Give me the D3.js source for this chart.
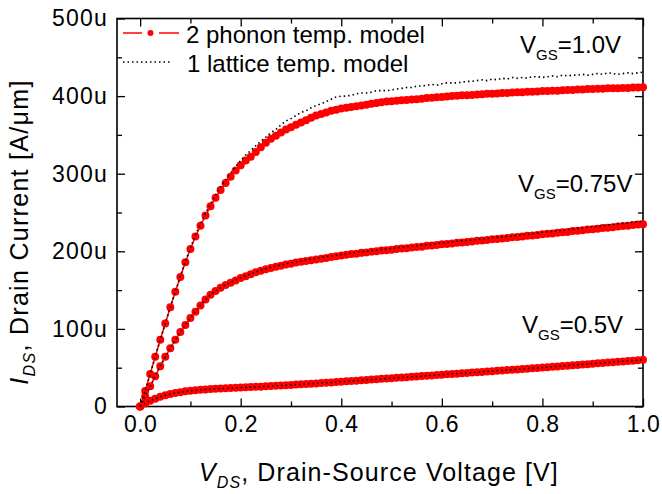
<!DOCTYPE html>
<html>
  <head>
    <meta charset="utf-8">
    <title>Drain current vs drain-source voltage</title>
    <script src="https://cdn.jsdelivr.net/npm/d3@7"></script>
    <style>
      body { margin: 0; background: #fff; }
      svg text { font-family: "Liberation Sans", Arial, sans-serif; fill: #000; }
    </style>
  </head>
  <body>
    <div id="chart"></div>
    <script>
      // drain-source sweep [V]
      const vds = [
        0.00, 0.01, 0.02, 0.03, 0.04, 0.05, 0.06, 0.07, 0.08, 0.09,
        0.10, 0.11, 0.12, 0.13, 0.14, 0.15, 0.16, 0.17, 0.18, 0.19,
        0.20, 0.21, 0.22, 0.23, 0.24, 0.25, 0.26, 0.27, 0.28, 0.29,
        0.30, 0.31, 0.32, 0.33, 0.34, 0.35, 0.36, 0.37, 0.38, 0.39,
        0.40, 0.41, 0.42, 0.43, 0.44, 0.45, 0.46, 0.47, 0.48, 0.49,
        0.50, 0.51, 0.52, 0.53, 0.54, 0.55, 0.56, 0.57, 0.58, 0.59,
        0.60, 0.61, 0.62, 0.63, 0.64, 0.65, 0.66, 0.67, 0.68, 0.69,
        0.70, 0.71, 0.72, 0.73, 0.74, 0.75, 0.76, 0.77, 0.78, 0.79,
        0.80, 0.81, 0.82, 0.83, 0.84, 0.85, 0.86, 0.87, 0.88, 0.89,
        0.90, 0.91, 0.92, 0.93, 0.94, 0.95, 0.96, 0.97, 0.98, 0.99,
        1.00
      ];

      // drain current [uA/um], 2 phonon temperature model
      const phonon10 = [
        0, 20, 42, 64, 86, 107, 128, 148, 167, 186,
        203, 219, 233, 246, 258, 269, 279, 288, 296, 304,
        311, 317, 322, 328, 334, 340, 345, 349, 353, 357,
        360, 363, 366, 369, 372, 375, 377, 379, 381, 382.5,
        384, 385, 386, 387, 388, 389, 390, 391, 392, 393,
        393.5, 394, 394.5, 395, 395.5, 396, 396.5, 397.5, 398, 398.5,
        399, 399.5, 400, 400.5, 401, 401, 401.5, 402, 402.5, 403,
        403, 403.5, 404, 404, 404.5, 405, 405, 405.5, 405.5, 406,
        406.5, 406.5, 407, 407, 407.5, 408, 408, 408.5, 408.5, 409,
        409, 409.5, 409.5, 410, 410, 410, 410.5, 410.5, 411, 411,
        411.5
      ];
      const phonon075 = [
        0, 13, 26, 39, 52, 64, 75, 86, 96, 105,
        114, 122, 130, 138, 144, 149, 153, 156.5, 159.5, 162.5,
        165.5, 168, 170.5, 173, 175, 177, 178.5, 180, 181.5, 183,
        184, 185.5, 186.5, 187.5, 188.5, 189.5, 190.5, 191.5, 192.5, 193.5,
        194.5, 195.5, 196.5, 197, 198, 198.5, 199.5, 200, 201, 201.5,
        202, 203, 203.5, 204, 205, 205.5, 206, 207, 207.5, 208,
        209, 209.5, 210, 211, 211.5, 212, 212.5, 213.5, 214, 214.5,
        215.5, 216, 216.5, 217, 218, 218.5, 219, 220, 220.5, 221,
        222, 222.5, 223, 224, 224.5, 225, 226, 226.5, 227, 228,
        228.5, 229, 230, 230.5, 231, 232, 232.5, 233, 234, 234.5,
        235
      ];
      const phonon05 = [
        0, 4, 7.5, 10, 12.5, 14.5, 16, 17.5, 18.5, 19.5,
        20.3, 21, 21.5, 22, 22.4, 22.8, 23.2, 23.5, 23.8, 24.1,
        24.4, 24.7, 25, 25.3, 25.6, 26, 26.3, 26.7, 27, 27.4,
        27.8, 28.2, 28.6, 29, 29.4, 29.8, 30.2, 30.6, 31, 31.5,
        32, 32.4, 32.9, 33.3, 33.8, 34.2, 34.7, 35.1, 35.6, 36,
        36.5, 36.9, 37.4, 37.8, 38.3, 38.7, 39.2, 39.6, 40.1, 40.5,
        41, 41.4, 41.9, 42.3, 42.8, 43.2, 43.7, 44.1, 44.6, 45,
        45.5, 46, 46.4, 46.9, 47.3, 47.8, 48.3, 48.7, 49.2, 49.6,
        50.1, 50.6, 51.1, 51.6, 52.1, 52.6, 53.1, 53.6, 54.1, 54.6,
        55.1, 55.6, 56.1, 56.6, 57.1, 57.6, 58.1, 58.6, 59.1, 59.6,
        60.1
      ];

      // drain current [uA/um], 1 lattice temperature model
      const lattice10 = [
        0, 20, 42, 64, 86, 107, 128, 148, 168, 187,
        204, 221, 235, 249, 261, 272, 283, 292, 301, 309,
        317, 324, 330, 336, 342, 347, 353, 357, 363, 368,
        371, 375, 379, 381, 385, 388, 390, 393, 396, 399,
        400, 400, 401, 403, 404, 404, 405, 407, 407, 407,
        408, 409, 410, 411, 411, 413, 413, 414, 415, 414,
        416, 417, 417, 417, 418, 419, 419, 420, 421, 420,
        422, 421, 423, 422, 424, 423, 424, 423, 425, 425,
        424, 425, 426, 425, 427, 426, 427, 427, 428, 427,
        428, 429, 428, 430, 429, 428, 429, 430, 429, 430,
        431
      ];
      const lattice075 = [
        0, 13, 26, 39, 52, 64, 75, 86, 96, 105,
        114, 122, 130, 138, 144, 149, 153, 156.5, 160, 163,
        166, 168.5, 171, 173.5, 175.5, 177.5, 179.5, 181, 182.5, 184,
        185, 186.5, 187.5, 189, 190, 191, 192, 193, 194, 195,
        196, 197, 198, 198.5, 199.5, 200, 201, 201.5, 202.5, 203,
        203.5, 204.5, 205, 206, 206.5, 207, 208, 208.5, 209, 210,
        211, 211.5, 212, 213, 213.5, 214, 214.5, 215.5, 216, 216.5,
        217.5, 218, 218.5, 219.5, 220, 220.5, 221.5, 222, 222.5, 223.5,
        224.5, 225, 225.5, 226.5, 227, 228, 228.5, 229.5, 230, 231,
        231.5, 232.5, 233, 234, 234.5, 235.5, 236, 236.5, 237.5, 238,
        239
      ];
      const lattice05 = [
        0, 4, 7.5, 10, 12.5, 14.5, 16, 17.5, 18.5, 19.5,
        20.3, 21, 21.5, 22, 22.4, 22.8, 23.2, 23.5, 23.8, 24.1,
        24.4, 24.7, 25, 25.3, 25.6, 26, 26.3, 26.7, 27, 27.4,
        27.8, 28.2, 28.6, 29, 29.4, 29.8, 30.2, 30.6, 31, 31.5,
        32, 32.4, 32.9, 33.3, 33.8, 34.2, 34.7, 35.1, 35.6, 36,
        36.5, 37, 37.4, 37.9, 38.3, 38.8, 39.2, 39.7, 40.1, 40.6,
        41.1, 41.5, 42, 42.4, 42.9, 43.3, 43.8, 44.2, 44.7, 45.2,
        45.6, 46.1, 46.6, 47, 47.5, 48, 48.4, 48.9, 49.4, 49.8,
        50.3, 50.8, 51.3, 51.8, 52.3, 52.8, 53.3, 53.8, 54.3, 54.8,
        55.3, 55.8, 56.3, 56.8, 57.3, 57.8, 58.3, 58.8, 59.3, 59.8,
        60.4
      ];

      const gateLabels = ["=1.0V", "=0.75V", "=0.5V"];
      const legendLabels = ["2 phonon temp. model", "1 lattice temp. model"];

      // ticks
      const xMajor = [0, 0.2, 0.4, 0.6, 0.8, 1.0];
      const xMinor = [0.1, 0.3, 0.5, 0.7, 0.9];
      const xTickLabels = ["0.0", "0.2", "0.4", "0.6", "0.8", "1.0"];
      const yMajor = [0, 100, 200, 300, 400, 500];
      const yMinor = [50, 150, 250, 350, 450];
      const yTickLabels = ["0", "100u", "200u", "300u", "400u", "500u"];

      const width = 662, height = 494;
      const plot = { left: 117, right: 643, top: 18.5, bottom: 406.5 };

      const svg = d3.select("#chart")
        .append("svg")
          .attr("width", width)
          .attr("height", height);

      const x = d3.scaleLinear().domain([-0.046, 1.0]).range([plot.left, plot.right]);
      const y = d3.scaleLinear().domain([0, 500]).range([plot.bottom, plot.top]);

      // axes: ticks point inward on all four sides
      function addAxis(axis, transform, values, size, labels, pad) {
        const g = svg.append("g")
          .attr("transform", transform)
          .call(axis
            .tickValues(values)
            .tickSize(-size)
            .tickSizeOuter(0)
            .tickPadding(pad || 0)
            .tickFormat(labels ? (d, i) => labels[i] : ""));
        g.select(".domain").remove();
        g.selectAll("line").attr("stroke", "#000").attr("stroke-width", 1.3);
        g.selectAll("text")
          .attr("font-size", 23)
          .attr("font-family", "Liberation Sans, Arial, sans-serif");
        return g;
      }
      addAxis(d3.axisBottom(x), `translate(0,${plot.bottom})`, xMajor, 8, xTickLabels, 9)
        .selectAll("text").attr("letter-spacing", 0.5);
      addAxis(d3.axisBottom(x), `translate(0,${plot.bottom})`, xMinor, 5);
      addAxis(d3.axisTop(x), `translate(0,${plot.top})`, xMajor, 8);
      addAxis(d3.axisTop(x), `translate(0,${plot.top})`, xMinor, 5);
      addAxis(d3.axisLeft(y), `translate(${plot.left},0)`, yMajor, 8, yTickLabels, 9)
        .selectAll("text").attr("letter-spacing", 1.2);
      addAxis(d3.axisLeft(y), `translate(${plot.left},0)`, yMinor, 5);
      addAxis(d3.axisRight(y), `translate(${plot.right},0)`, yMajor, 8);
      addAxis(d3.axisRight(y), `translate(${plot.right},0)`, yMinor, 5);

      svg.append("rect")
        .attr("x", plot.left)
        .attr("y", plot.top)
        .attr("width", plot.right - plot.left)
        .attr("height", plot.bottom - plot.top)
        .attr("fill", "none")
        .attr("stroke", "#000")
        .attr("stroke-width", 1.6);

      const line = d3.line()
        .x((d, i) => x(vds[i]))
        .y(d => y(d));

      // red phonon curves with markers
      [phonon10, phonon075, phonon05].forEach(series => {
        svg.append("path")
          .datum(series)
          .attr("d", line)
          .attr("fill", "none")
          .attr("stroke", "#ff0000")
          .attr("stroke-width", 1.5);
        svg.append("g")
          .selectAll("circle")
          .data(series)
          .join("circle")
            .attr("cx", (d, i) => x(vds[i]))
            .attr("cy", d => y(d))
            .attr("r", 4)
            .attr("fill", "#ff0000");
      });

      // dotted lattice curves on top
      [lattice10, lattice075, lattice05].forEach(series => {
        svg.append("path")
          .datum(series)
          .attr("d", line)
          .attr("fill", "none")
          .attr("stroke", "#000")
          .attr("stroke-width", 1.6)
          .attr("stroke-dasharray", "1.5,3");
      });

      // gate voltage labels
      const gatePos = [[520, 53], [518, 192], [522, 333]];
      gateLabels.forEach((t, i) => {
        const txt = svg.append("text")
          .attr("x", gatePos[i][0])
          .attr("y", gatePos[i][1])
          .attr("font-size", 24);
        txt.append("tspan").text("V");
        txt.append("tspan").attr("font-size", 15).attr("dy", 7).text("GS");
        txt.append("tspan").attr("dy", -7).text(t);
      });

      // legend
      svg.append("line")
        .attr("x1", 123).attr("x2", 142).attr("y1", 33).attr("y2", 33)
        .attr("stroke", "#ff0000").attr("stroke-width", 1.5);
      svg.append("line")
        .attr("x1", 159).attr("x2", 179).attr("y1", 33).attr("y2", 33)
        .attr("stroke", "#ff0000").attr("stroke-width", 1.5);
      svg.append("circle")
        .attr("cx", 150.5).attr("cy", 33).attr("r", 3)
        .attr("fill", "#ff0000");
      svg.append("line")
        .attr("x1", 123).attr("x2", 170).attr("y1", 62).attr("y2", 62)
        .attr("stroke", "#000").attr("stroke-width", 1.6)
        .attr("stroke-dasharray", "1.5,3");
      svg.append("text").attr("x", 186).attr("y", 43).attr("font-size", 24).text(legendLabels[0]);
      svg.append("text").attr("x", 187).attr("y", 72).attr("font-size", 24).text(legendLabels[1]);

      // axis titles
      const xTitle = svg.append("text")
        .attr("x", 379)
        .attr("y", 481)
        .attr("text-anchor", "middle")
        .attr("font-size", 25)
        .attr("letter-spacing", 1.1);
      xTitle.append("tspan").attr("font-style", "italic").text("V");
      xTitle.append("tspan").attr("font-style", "italic").attr("font-size", 16).attr("dy", 7).text("DS");
      xTitle.append("tspan").attr("dy", -7).text(", Drain-Source Voltage [V]");

      const yTitle = svg.append("text")
        .attr("transform", "translate(28,232) rotate(-90)")
        .attr("text-anchor", "middle")
        .attr("font-size", 25)
        .attr("letter-spacing", 1.3);
      yTitle.append("tspan").attr("font-style", "italic").text("I");
      yTitle.append("tspan").attr("font-style", "italic").attr("font-size", 16).attr("dy", 7).text("DS");
      yTitle.append("tspan").attr("dy", -7).text(", Drain Current [A/\u03bcm]");
    </script>
  </body>
</html>
